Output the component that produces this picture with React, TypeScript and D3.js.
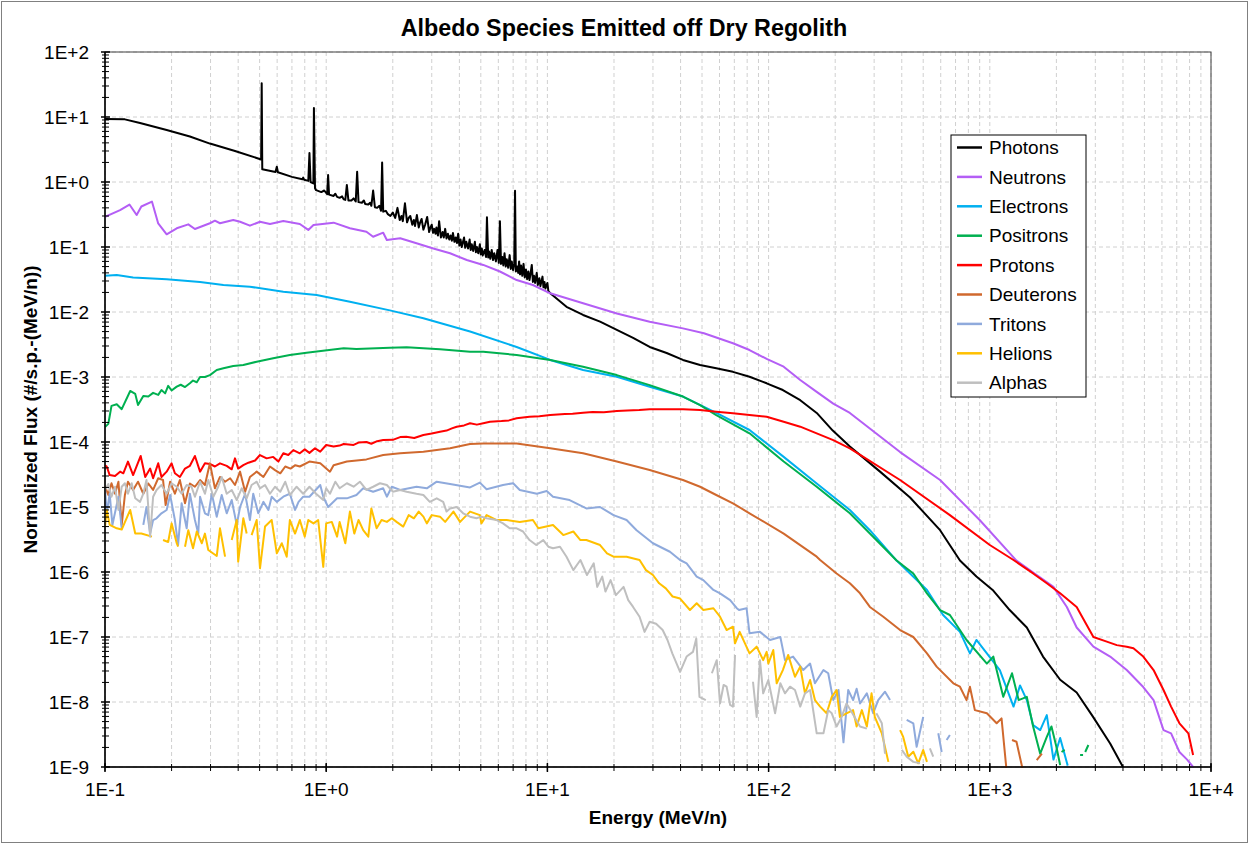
import React from "react";
import * as d3 from "d3";

type Pt = [number, number | null];

const photons: Pt[] = [
  [0.1, 9.3], [0.123, 9.2], [0.144, 8.1], [0.19, 6.3], [0.242, 5.0], [0.298, 3.9], [0.387, 3.0], [0.5, 2.26],
  [0.508, 2.22], [0.511, 33], [0.514, 1.57], [0.59, 1.43], [0.598, 1.72], [0.605, 1.41], [0.7, 1.2], [0.78, 1.1],
  [0.787, 1.17], [0.795, 1.08], [0.83, 1.04], [0.84, 2.8], [0.85, 1.0], [0.875, 0.95], [0.88, 13.7], [0.89, 0.8],
  [0.9, 0.75], [0.95, 0.7], [0.98, 0.74], [1.01, 0.65], [1.02, 1.28], [1.03, 0.64], [1.08, 0.61], [1.1, 0.66],
  [1.12, 0.59], [1.15, 0.57], [1.18, 0.6], [1.2, 0.54], [1.22, 0.53], [1.24, 0.9], [1.26, 0.52], [1.3, 0.52],
  [1.33, 0.56], [1.36, 0.5], [1.38, 1.44], [1.4, 0.49], [1.45, 0.48], [1.48, 0.52], [1.5, 0.46], [1.55, 0.45],
  [1.58, 0.48], [1.6, 0.43], [1.63, 0.74], [1.66, 0.41], [1.7, 0.4], [1.74, 0.43], [1.77, 0.36], [1.79, 2.0],
  [1.81, 0.35], [1.86, 0.36], [1.9, 0.32], [1.95, 0.3], [2.0, 0.34], [2.05, 0.28], [2.1, 0.4], [2.15, 0.26],
  [2.19, 0.3], [2.22, 0.25], [2.27, 0.47], [2.32, 0.24], [2.36, 0.28], [2.4, 0.3], [2.45, 0.22], [2.49, 0.26],
  [2.52, 0.21], [2.57, 0.31], [2.62, 0.2], [2.66, 0.24], [2.7, 0.27], [2.75, 0.185], [2.8, 0.22], [2.86, 0.29],
  [2.92, 0.17], [2.96, 0.2], [3.0, 0.22], [3.04, 0.165], [3.08, 0.19], [3.12, 0.16], [3.15, 0.2], [3.2, 0.15],
  [3.24, 0.25], [3.3, 0.14], [3.36, 0.17], [3.4, 0.14], [3.45, 0.19], [3.5, 0.135], [3.55, 0.16], [3.6, 0.13],
  [3.65, 0.15], [3.7, 0.125], [3.74, 0.164], [3.8, 0.12], [3.85, 0.14], [3.9, 0.115], [3.95, 0.16], [4.0, 0.105],
  [4.05, 0.13], [4.1, 0.1], [4.2, 0.14], [4.25, 0.097], [4.3, 0.12], [4.38, 0.095], [4.45, 0.13], [4.5, 0.09],
  [4.55, 0.11], [4.62, 0.087], [4.7, 0.12], [4.75, 0.083], [4.8, 0.1], [4.87, 0.08], [4.95, 0.11], [5.0, 0.077],
  [5.05, 0.095], [5.1, 0.074], [5.2, 0.09], [5.28, 0.07], [5.33, 0.286], [5.4, 0.069], [5.45, 0.085], [5.52, 0.066],
  [5.6, 0.09], [5.68, 0.063], [5.75, 0.08], [5.85, 0.06], [5.95, 0.09], [6.03, 0.057], [6.1, 0.25], [6.17, 0.055],
  [6.25, 0.07], [6.32, 0.052], [6.4, 0.08], [6.48, 0.05], [6.55, 0.065], [6.65, 0.048], [6.75, 0.075], [6.83, 0.046],
  [6.9, 0.06], [7.0, 0.044], [7.08, 0.055], [7.14, 0.735], [7.2, 0.042], [7.3, 0.05], [7.38, 0.04], [7.45, 0.06],
  [7.52, 0.038], [7.6, 0.052], [7.7, 0.036], [7.8, 0.055], [7.9, 0.034], [8.0, 0.045], [8.1, 0.032], [8.2, 0.042],
  [8.3, 0.031], [8.4, 0.04], [8.5, 0.053], [8.6, 0.029], [8.7, 0.036], [8.8, 0.028], [8.95, 0.04], [9.05, 0.026],
  [9.2, 0.033], [9.3, 0.025], [9.5, 0.035], [9.6, 0.024], [9.7, 0.029], [9.8, 0.023], [10.0, 0.028], [10.1, 0.021],
  [10.3, 0.0195], [12.2, 0.012],
  [14.5, 0.009], [17.3, 0.0071], [20.6, 0.0053], [24.4, 0.004], [29, 0.0029], [34.6, 0.00234], [41, 0.00183],
  [49, 0.00153], [58, 0.00136], [69, 0.0012], [82, 0.00101], [98, 0.0008], [116, 0.00063], [139, 0.00044],
  [165, 0.00028], [195, 0.00015], [233, 8.5e-5], [319, 3.5e-5], [436, 1.4e-5], [596, 4.4e-6], [733, 1.5e-6],
  [870, 8.5e-7], [1030, 5.3e-7], [1230, 2.6e-7], [1470, 1.4e-7], [1740, 5e-8], [2080, 2.2e-8], [2470, 1.4e-8],
  [2930, 5.9e-9], [3500, 2.3e-9], [4000, 1e-9],
];

const neutrons: Pt[] = [
  [0.1, 0.29], [0.117, 0.37], [0.129, 0.45], [0.139, 0.31], [0.146, 0.42], [0.163, 0.5], [0.174, 0.23], [0.19, 0.157],
  [0.211, 0.194], [0.238, 0.223], [0.255, 0.189], [0.298, 0.232], [0.314, 0.254], [0.331, 0.232], [0.38, 0.26],
  [0.408, 0.245], [0.452, 0.213], [0.502, 0.245], [0.557, 0.226], [0.64, 0.251], [0.76, 0.226], [0.83, 0.183],
  [0.876, 0.218], [1.08, 0.237], [1.28, 0.194], [1.52, 0.172], [1.63, 0.144], [1.81, 0.166], [1.88, 0.128],
  [2.16, 0.136], [2.56, 0.114], [3.05, 0.095], [3.63, 0.08], [4.32, 0.063], [5.13, 0.053], [6.1, 0.042],
  [7.26, 0.031], [8.6, 0.026], [10.3, 0.0194], [14.5, 0.0136], [20.6, 0.0095], [29, 0.0071], [41, 0.0056],
  [51, 0.0047], [69, 0.0033], [82, 0.0026], [98, 0.0019], [117, 0.00144], [139, 0.0009], [165, 0.00059],
  [196, 0.00039], [233, 0.00028], [393, 7e-5], [596, 2.6e-5], [900, 6.3e-6], [1320, 1.5e-6], [1630, 9e-7],
  [1940, 5.9e-7], [2230, 2.9e-7], [2470, 1.4e-7], [2940, 7.1e-8], [3500, 5e-8], [4160, 3.1e-8], [4940, 1.7e-8],
  [5500, 1.07e-8], [6100, 3.7e-9], [6600, 3.3e-9], [7200, 1.7e-9], [7800, 1.3e-9], [8300, 1e-9],
];

const electrons: Pt[] = [
  [0.1, 0.036], [0.113, 0.037], [0.134, 0.034], [0.19, 0.032], [0.269, 0.029], [0.343, 0.026], [0.452, 0.0245],
  [0.64, 0.0205], [0.905, 0.0183], [1.28, 0.0144], [1.94, 0.0106], [2.75, 0.008], [4.47, 0.005], [7.26, 0.0029],
  [10.3, 0.00183], [14.5, 0.00128], [20.6, 0.00101], [29, 0.00071], [41, 0.0005], [58, 0.00028], [82, 0.000153],
  [117, 5.9e-5], [165, 2.3e-5], [233, 9e-6], [287, 4.4e-6], [379, 1.5e-6], [436, 9.5e-7], [520, 5.3e-7],
  [615, 2.18e-7], [733, 1.2e-7], [813, 5.6e-8], [870, 9e-8], [970, 5.6e-8], [1110, 3.1e-8], [1280, 8.5e-9],
  [1370, 1.8e-8], [1470, 1.07e-8], [1570, 4.4e-9], [1690, 3.7e-9], [1810, 6.3e-9], [1940, 1.3e-9], [2080, 2.8e-9],
  [2250, 1.05e-9],
];

const positrons: Pt[] = [
  [0.1, 1.7e-4], [0.1035, 1.9e-4], [0.107, 3.6e-4], [0.113, 3.8e-4], [0.119, 3.2e-4], [0.13, 6.1e-4], [0.137, 5.5e-4],
  [0.141, 3.7e-4], [0.149, 5.1e-4], [0.157, 5.0e-4], [0.165, 5.7e-4], [0.174, 5.3e-4], [0.18, 6.3e-4], [0.187, 5.6e-4],
  [0.193, 7.3e-4], [0.2, 6.2e-4], [0.211, 7.1e-4], [0.22, 7.6e-4], [0.23, 7.0e-4], [0.242, 8.0e-4], [0.25, 8.8e-4],
  [0.26, 8.3e-4], [0.269, 1.0e-3], [0.283, 1.0e-3], [0.298, 1.07e-3], [0.32, 1.28e-3], [0.343, 1.36e-3],
  [0.38, 1.48e-3], [0.422, 1.53e-3], [0.485, 1.72e-3], [0.576, 1.94e-3], [0.685, 2.18e-3], [0.815, 2.37e-3],
  [0.967, 2.54e-3], [1.2, 2.76e-3], [1.37, 2.7e-3], [1.94, 2.82e-3], [2.31, 2.86e-3], [2.75, 2.76e-3],
  [3.27, 2.67e-3], [4.47, 2.45e-3], [5.13, 2.45e-3], [7.26, 2.18e-3], [10.3, 1.83e-3], [14.5, 1.44e-3],
  [20.6, 1.07e-3], [29, 7.5e-4], [41, 5.0e-4], [49, 3.7e-4], [58, 2.6e-4], [82, 1.36e-4], [117, 5.0e-5],
  [165, 2.05e-5], [233, 8.0e-6], [379, 1.5e-6], [451, 9.5e-7], [520, 4.7e-7], [596, 2.6e-7], [660, 2.18e-7],
  [785, 9e-8], [970, 3.9e-8], [1037, 5e-8], [1150, 1.2e-8], [1260, 2.77e-8], [1350, 1.07e-8], [1470, 1.2e-8],
  [1570, 4.2e-9], [1690, 1.6e-9], [1810, 2.9e-9], [1900, 4.2e-9], [2000, 2.05e-9], [2080, 1.07e-9], [2090, null],
  [2110, 1.7e-9], [2180, 1.83e-9], [2200, null], [2560, 1.53e-9], [2640, 1.53e-9], [2670, null], [2700, 1.7e-9],
  [2790, 2.18e-9],
];

const protons: Pt[] = [
  [0.1, 4.4e-5], [0.1018, 4.2e-5], [0.105, 3.1e-5], [0.111, 3.0e-5], [0.117, 3.5e-5], [0.121, 3.3e-5], [0.127, 5.0e-5],
  [0.134, 3.1e-5], [0.145, 6.1e-5], [0.152, 2.9e-5], [0.16, 3.9e-5], [0.165, 2.77e-5], [0.174, 4.7e-5], [0.18, 2.9e-5],
  [0.19, 3.5e-5], [0.2, 4.7e-5], [0.207, 3.3e-5], [0.218, 2.9e-5], [0.23, 3.9e-5], [0.242, 4.3e-5], [0.255, 6.1e-5],
  [0.269, 3.5e-5], [0.283, 4.7e-5], [0.298, 4.6e-5], [0.314, 4.2e-5], [0.331, 4.7e-5], [0.355, 4.3e-5],
  [0.374, 3.8e-5], [0.387, 5.6e-5], [0.4, 3.9e-5], [0.422, 4.4e-5], [0.445, 4.8e-5], [0.477, 5.2e-5], [0.502, 6.3e-5],
  [0.538, 5.6e-5], [0.576, 5.9e-5], [0.608, 5.0e-5], [0.64, 6.7e-5], [0.674, 6.3e-5], [0.71, 7.5e-5], [0.76, 6.7e-5],
  [0.8, 7.7e-5], [0.84, 6.8e-5], [0.89, 8.0e-5], [0.94, 7.1e-5], [1.0, 9.0e-5], [1.08, 8.5e-5], [1.15, 8.8e-5],
  [1.2, 9.3e-5], [1.33, 9.0e-5], [1.4, 9.8e-5], [1.52, 1.0e-4], [1.6, 9.4e-5], [1.7, 1.03e-4], [1.81, 1.07e-4],
  [2.0, 1.08e-4], [2.16, 1.19e-4], [2.3, 1.2e-4], [2.5, 1.15e-4], [2.75, 1.28e-4], [3.0, 1.35e-4], [3.27, 1.44e-4],
  [3.5, 1.5e-4], [3.7, 1.62e-4], [3.89, 1.72e-4], [4.2, 1.8e-4], [4.47, 1.94e-4], [4.8, 1.85e-4], [5.13, 1.94e-4],
  [5.5, 2.05e-4], [6.2, 2.1e-4], [6.7, 2.15e-4], [7.26, 2.32e-4], [8.3, 2.45e-4], [9.2, 2.5e-4], [10.3, 2.6e-4],
  [12, 2.7e-4], [13, 2.72e-4], [14.5, 2.82e-4], [16, 2.9e-4], [18, 2.88e-4], [20.6, 3.0e-4], [23, 3.05e-4],
  [26, 3.1e-4], [29, 3.18e-4], [41, 3.18e-4], [49, 3.1e-4], [58, 2.92e-4], [69, 2.76e-4], [82, 2.6e-4],
  [98, 2.45e-4], [117, 2.05e-4], [139, 1.72e-4], [165, 1.36e-4], [196, 1.07e-4], [233, 8.0e-5], [393, 2.6e-5],
  [660, 7.5e-6], [1000, 2.6e-6], [1280, 1.53e-6], [1570, 9.5e-7], [1810, 6.7e-7], [2080, 4.7e-7], [2470, 2.9e-7],
  [2940, 1.0e-7], [3380, 8.5e-8], [3750, 7.5e-8], [4160, 7.1e-8], [4460, 6.7e-8], [4940, 5.0e-8], [5500, 3.1e-8],
  [6100, 1.53e-8], [6600, 8.5e-9], [7200, 4.7e-9], [7900, 3.3e-9], [8300, 1.53e-9],
];

const deuterons: Pt[] = [
  [0.1, 2.05e-5], [0.1035, 1.53e-5], [0.107, 2.32e-5], [0.111, 1.6e-5], [0.115, 2.45e-5], [0.119, 5.3e-6],
  [0.123, 1.53e-5], [0.127, 2.45e-5], [0.134, 1.83e-5], [0.141, 2.45e-5], [0.149, 1.6e-5], [0.157, 2.3e-5],
  [0.165, 1.83e-5], [0.174, 2.77e-5], [0.183, 2.6e-5], [0.188, 1.07e-5], [0.197, 2.45e-5], [0.207, 1.6e-5],
  [0.218, 2.6e-5], [0.23, 1.14e-5], [0.242, 2.3e-5], [0.255, 2.05e-5], [0.269, 2.6e-5], [0.283, 2.18e-5],
  [0.298, 4.7e-5], [0.314, 1.94e-5], [0.331, 2.9e-5], [0.349, 2.45e-5], [0.368, 2.77e-5], [0.387, 2.18e-5],
  [0.408, 3.5e-5], [0.43, 1.72e-5], [0.452, 2.9e-5], [0.485, 3.5e-5], [0.52, 2.9e-5], [0.557, 4.2e-5],
  [0.587, 3.7e-5], [0.62, 3.3e-5], [0.653, 4.2e-5], [0.69, 3.9e-5], [0.725, 4.4e-5], [0.76, 4.2e-5], [0.84, 5.0e-5],
  [0.94, 4.7e-5], [1.04, 3.5e-5], [1.08, 4.4e-5], [1.24, 5.0e-5], [1.52, 5.4e-5], [1.81, 6.3e-5], [2.16, 6.7e-5],
  [2.75, 7.1e-5], [3.63, 8.0e-5], [4.47, 9.3e-5], [5.13, 9.5e-5], [7.26, 9.5e-5], [10.3, 8.0e-5], [14.5, 6.7e-5],
  [20.6, 5.0e-5], [29, 3.7e-5], [41, 2.6e-5], [49, 2.05e-5], [58, 1.53e-5], [69, 1.14e-5], [82, 8.0e-6],
  [117, 3.9e-6], [165, 1.72e-6], [171, 1.53e-6], [203, 9.5e-7], [233, 6.7e-7], [259, 4.7e-7], [287, 2.9e-7],
  [330, 2.05e-7], [393, 1.28e-7], [451, 1.0e-7], [520, 5.6e-8], [575, 3.5e-8], [684, 1.94e-8], [733, 1.72e-8],
  [785, 1.07e-8], [813, 1.72e-8], [856, 7.5e-9], [970, 6.7e-9], [1074, 4.7e-9], [1130, 5.6e-9], [1190, 9e-10],
  [1210, null], [1260, 2.6e-9], [1320, 2.45e-9], [1410, 9e-10], [1500, null], [1630, 1.28e-9], [1720, 1.6e-9],
];

const tritons: Pt[] = [
  [0.1, 1.94e-5], [0.1018, 8e-6], [0.105, 1.6e-5], [0.108, 5.3e-6], [0.115, 1.44e-5], [0.119, 4.7e-6], [0.125, null],
  [0.149, 5.3e-6], [0.154, 1.0e-5], [0.16, 3.9e-6], [0.165, 6.3e-6], [0.171, 6.7e-6], [0.18, 8e-6], [0.19, 9e-6],
  [0.197, 1.53e-5], [0.207, 6.3e-6], [0.214, 2.6e-6], [0.222, 1.14e-5], [0.234, 4.7e-6], [0.242, 1.6e-5],
  [0.255, 6.3e-6], [0.264, 3.9e-6], [0.269, 1.44e-5], [0.283, 8e-6], [0.293, 7.5e-6], [0.304, 1.6e-5],
  [0.32, 7.1e-6], [0.337, 1.53e-5], [0.355, 8e-6], [0.374, 1.28e-5], [0.394, 5.3e-6], [0.408, 1.0e-5],
  [0.43, 1.6e-5], [0.452, 6.3e-6], [0.468, 1.6e-5], [0.493, 8e-6], [0.52, 1.2e-5], [0.548, 9e-6], [0.567, 1.44e-5],
  [0.598, 1.2e-5], [0.64, 1.44e-5], [0.685, 1.6e-5], [0.723, 9e-6], [0.75, 1.2e-5], [0.787, 1.44e-5],
  [0.84, 1.44e-5], [0.94, 2.18e-5], [0.97, 1.44e-5], [1.02, 1.0e-5], [1.12, 1.36e-5], [1.24, 1.36e-5],
  [1.37, 1.53e-5], [1.47, 1.94e-5], [1.63, 1.72e-5], [1.81, 1.94e-5], [1.88, 1.44e-5], [1.98, 2.05e-5],
  [2.16, 1.83e-5], [2.56, 2.05e-5], [2.85, 1.94e-5], [3.16, 2.45e-5], [3.63, 2.26e-5], [4.47, 2.0e-5],
  [4.95, 2.37e-5], [5.31, 1.87e-5], [6.3, 2.18e-5], [7.0, 2.32e-5], [7.5, 1.83e-5], [8.96, 1.6e-5], [9.93, 1.76e-5],
  [10.6, 1.44e-5], [12.6, 1.28e-5], [15, 9.5e-6], [17.3, 1.0e-5], [19.9, 7.5e-6], [22.8, 6.3e-6], [25.3, 4.4e-6],
  [30, 2.77e-6], [35.8, 2.05e-6], [39.8, 1.53e-6], [42.6, 1.36e-6], [47.3, 8.5e-7], [50.7, 7.5e-7], [56.3, 5.3e-7],
  [60.3, 4.7e-7], [67, 3.7e-7], [71.8, 2.77e-7], [73.5, 2.6e-7], [79.5, 2.77e-7], [82, 1.14e-7], [91.4, 1.2e-7],
  [101.5, 9e-8], [113, 1.0e-7], [118.6, 4.4e-8], [129, 5.0e-8], [143.5, 3.1e-8], [154, 3.9e-8], [162, 1.94e-8],
  [177, 3.1e-8], [186, 2.77e-8], [196, 1.07e-8], [207, 1.53e-8], [218, 2.4e-9], [229, 1.53e-8], [241, 1.07e-8],
  [250, 1.6e-8], [259, 9.5e-9], [278, 1.36e-8], [297, 6.7e-9], [313, 1.07e-8], [336, 1.44e-8], [354, 1.07e-8],
  [380, null], [421, 5.3e-9], [451, 4.7e-9], [467, 2.05e-9], [500, 5.9e-9], [540, null], [585, 3.3e-9],
  [606, 1.7e-9], [620, null], [638, 2.6e-9], [660, 3.1e-9],
];

const helions: Pt[] = [
  [0.1, 5e-6], [0.1018, 9e-6], [0.105, 5.3e-6], [0.113, 4.7e-6], [0.119, 4.5e-6], [0.13, 9e-6], [0.137, 3.9e-6],
  [0.146, 3.9e-6], [0.163, 3.5e-6], [0.172, null], [0.183, 3.1e-6], [0.193, 2.9e-6], [0.2, 5.6e-6], [0.211, 2.77e-6],
  [0.214, 2.45e-6], [0.222, null], [0.23, 2.45e-6], [0.238, 4.4e-6], [0.25, 2.32e-6], [0.26, 4.2e-6],
  [0.274, 2.77e-6], [0.283, 3.9e-6], [0.293, 2.18e-6], [0.32, 1.76e-6], [0.331, 4.7e-6], [0.349, 1.72e-6],
  [0.36, null], [0.374, 3.1e-6], [0.394, 6.3e-6], [0.4, 1.44e-6], [0.422, 6.7e-6], [0.437, 3.9e-6], [0.448, null],
  [0.46, 3.7e-6], [0.485, 6.3e-6], [0.502, 1.14e-6], [0.529, 5.0e-6], [0.567, 6.3e-6], [0.598, 1.94e-6],
  [0.63, 2.77e-6], [0.663, 1.72e-6], [0.685, 6.3e-6], [0.723, 3.9e-6], [0.76, 6.3e-6], [0.8, 3.5e-6],
  [0.83, 6.3e-6], [0.876, 5.6e-6], [0.92, 6.3e-6], [0.97, 1.2e-6], [1.0, 5.6e-6], [1.06, 5.9e-6], [1.12, 3.5e-6],
  [1.15, 5.9e-6], [1.22, 2.77e-6], [1.28, 8.5e-6], [1.34, 3.9e-6], [1.4, 6.3e-6], [1.47, 4.4e-6], [1.55, 3.5e-6],
  [1.6, 9.5e-6], [1.69, 4.7e-6], [1.78, 6.3e-6], [1.88, 5.9e-6], [1.98, 6.7e-6], [2.08, 5.9e-6], [2.23, 5.0e-6],
  [2.36, 7.5e-6], [2.49, 6.7e-6], [2.62, 8.5e-6], [2.75, 7.1e-6], [2.85, 5.6e-6], [3.0, 7.5e-6], [3.27, 7.1e-6],
  [3.45, 5.9e-6], [3.76, 8.5e-6], [4.03, 5.9e-6], [4.47, 8.5e-6], [4.95, 7.5e-6], [5.03, 5.6e-6], [5.31, 7.5e-6],
  [5.9, 6.3e-6], [6.54, 6.3e-6], [7.5, 5.9e-6], [8.6, 6.3e-6], [9.1, 4.7e-6], [10.6, 5.3e-6], [11.8, 3.7e-6],
  [13.1, 4.2e-6], [14.1, 3.1e-6], [15, 3.1e-6], [17.3, 2.6e-6], [18.6, 1.94e-6], [19.9, 1.72e-6], [22.8, 1.72e-6],
  [26.1, 1.53e-6], [27.9, 1.07e-6], [30, 9e-7], [32, 6.7e-7], [34.3, 5.6e-7], [36.8, 4.2e-7], [39.8, 3.9e-7],
  [44.1, 2.6e-7], [47.3, 3.3e-7], [50.7, 2.6e-7], [56.3, 2.77e-7], [60.3, 2.05e-7], [64.6, 1.28e-7], [69, 1.44e-7],
  [70.5, 8e-8], [74, 1.2e-7], [82, 5.6e-8], [88.3, 7.1e-8], [94.5, 4.4e-8], [98, 5.9e-8], [99.7, 3.9e-8],
  [105, 6.3e-8], [108.8, 1.94e-8], [116, 3.1e-8], [122.6, 5.3e-8], [131.6, 2.45e-8], [139, 3.5e-8], [146, 1.36e-8],
  [154, 2.18e-8], [162, 1.07e-8], [171, 8.5e-9], [183, 6.7e-9], [193, 1.2e-8], [203, 1.53e-8], [210, 5.9e-9],
  [225, 6.7e-9], [241, 7.5e-9], [250, 4.2e-9], [264, 7.5e-9], [278, 4.2e-9], [292, 1.36e-8], [302, 5.9e-9],
  [325, 3.3e-9], [348, 1.2e-9], [370, null], [393, 3.7e-9], [406, 2.9e-9], [428, 1.44e-9], [451, 1.72e-9],
  [475, 1.14e-9], [500, 1.83e-9], [520, 1.2e-9],
];

const alphas: Pt[] = [
  [0.1, 1.83e-5], [0.1035, 2.26e-5], [0.107, 1.44e-5], [0.111, 2.05e-5], [0.115, 9e-6], [0.119, 2.05e-5],
  [0.123, 2.32e-5], [0.127, 1.6e-5], [0.132, 2.32e-5], [0.137, 1.36e-5], [0.144, 1.2e-5], [0.149, 1.6e-5],
  [0.154, 2.6e-5], [0.16, 3.5e-6], [0.165, 1.44e-5], [0.171, 1.83e-5], [0.18, 2.18e-5], [0.19, 1.6e-5], [0.2, 2.32e-5],
  [0.211, 2.05e-5], [0.222, 1.6e-5], [0.234, 2.18e-5], [0.246, 2.05e-5], [0.255, 1.44e-5], [0.269, 2.45e-5],
  [0.283, 1.6e-5], [0.293, 2.6e-5], [0.309, 1.44e-5], [0.325, 2.05e-5], [0.337, 2.9e-5], [0.355, 1.6e-5],
  [0.374, 1.83e-5], [0.394, 1.28e-5], [0.415, 1.94e-5], [0.437, 1.36e-5], [0.46, 2.18e-5], [0.485, 2.45e-5],
  [0.502, 1.94e-5], [0.529, 2.18e-5], [0.557, 1.6e-5], [0.587, 2.05e-5], [0.62, 1.72e-5], [0.653, 2.45e-5],
  [0.685, 1.53e-5], [0.735, 2.05e-5], [0.787, 1.6e-5], [0.84, 2.05e-5], [0.9, 1.6e-5], [0.97, 1.28e-5],
  [1.0, 1.94e-5], [1.04, 1.6e-5], [1.1, 2.45e-5], [1.15, 1.94e-5], [1.24, 2.32e-5], [1.33, 2.05e-5], [1.42, 2.45e-5],
  [1.52, 1.83e-5], [1.63, 2.05e-5], [1.75, 2.32e-5], [1.88, 2.18e-5], [2.0, 1.72e-5], [2.16, 1.83e-5],
  [2.31, 1.72e-5], [2.56, 1.6e-5], [2.75, 1.53e-5], [2.94, 1.2e-5], [3.16, 1.36e-5], [3.38, 1.2e-5], [3.5, 8.5e-6],
  [3.63, 9.5e-6], [3.89, 1.0e-5], [4.16, 8e-6], [4.47, 7.1e-6], [4.78, 6.7e-6], [5.03, 7.1e-6], [5.31, 6.7e-6],
  [5.9, 6.3e-6], [6.3, 5.6e-6], [6.75, 4.7e-6], [7.26, 4.7e-6], [7.76, 4.2e-6], [8.3, 3.1e-6], [8.9, 2.6e-6],
  [9.58, 3.1e-6], [10.1, 2.45e-6], [10.6, 2.32e-6], [11.4, 2.45e-6], [12.2, 1.72e-6], [13.1, 1.07e-6],
  [14.1, 1.53e-6], [15.1, 9e-7], [16.2, 1.36e-6], [16.8, 5.9e-7], [17.7, 8.5e-7], [18.3, 5e-7], [19.3, 7.5e-7],
  [20.4, 4.4e-7], [22.1, 5.9e-7], [23.2, 3.7e-7], [24.4, 2.9e-7], [26.1, 2.05e-7], [27.5, 1.2e-7], [29, 1.72e-7],
  [31, 1.6e-7], [33.2, 1.28e-7], [34.9, 9e-8], [36.7, 5.6e-8], [39.8, 2.9e-8], [42.6, 5e-8], [45.5, 5.9e-8],
  [47.1, 9.5e-8], [48.7, 1.2e-8], [52, 1.07e-8], [54, null], [55.4, 2.77e-8], [58.3, 4.4e-8], [60.3, 9.5e-9],
  [62.6, 1.83e-8], [64.6, 1.72e-8], [67, 9e-9], [69, 8.5e-9], [70.5, 5.3e-8], [78, null], [85, 2.05e-8],
  [88.3, 5.9e-9], [91.4, 4.4e-8], [94.5, 1.36e-8], [99.7, 2.18e-8], [107, 6.7e-9], [113, 1.94e-8], [118.6, 1.36e-8],
  [125, 1.72e-8], [131.6, 1.53e-8], [139, 8.5e-9], [146, 1.36e-8], [154, 1.53e-8], [165, 3.3e-9], [177, 3.3e-9],
  [186, 7.5e-9], [193, 6.7e-9], [203, 4.2e-9], [214, 5.9e-9], [225, 9.5e-9], [237, 7.1e-9], [259, 4.2e-9],
  [278, 3.9e-9], [290, null], [307, 6.7e-9], [325, 4.7e-9], [336, 1.6e-9], [370, null], [400, 1.83e-9],
  [421, 1.44e-9], [451, 1.2e-9], [484, 1.14e-9], [510, null], [536, 1.94e-9], [555, 1.44e-9],
];

const seriesNames = ["Photons", "Neutrons", "Electrons", "Positrons", "Protons", "Deuterons", "Tritons", "Helions", "Alphas"];
const seriesData = [photons, neutrons, electrons, positrons, protons, deuterons, tritons, helions, alphas];
const seriesColors = ["#000000", "#B45EF5", "#00B0F0", "#00B050", "#FF0000", "#D0692E", "#8FAADC", "#FFC000", "#BFBFBF"];

const xTickValues = [0.1, 1, 10, 100, 1000, 10000];
const xTickLabels = ["1E-1", "1E+0", "1E+1", "1E+2", "1E+3", "1E+4"];
const yTickValues = [1e-9, 1e-8, 1e-7, 1e-6, 1e-5, 1e-4, 1e-3, 1e-2, 1e-1, 1, 10, 100];
const yTickLabels = ["1E-9", "1E-8", "1E-7", "1E-6", "1E-5", "1E-4", "1E-3", "1E-2", "1E-1", "1E+0", "1E+1", "1E+2"];

const titleText = "Albedo Species Emitted off Dry Regolith";
const xTitle = "Energy (MeV/n)";
const yTitle = "Normalized Flux (#/s.p.-(MeV/n))";

const W = 1249;
const H = 844;
const L = 105, R = 1211, T = 52, B = 767;
const FONT = "'Liberation Sans', Arial, sans-serif";

export default function App() {
  const x = d3.scaleLog().domain([0.1, 10000]).range([L, R]);
  const y = d3.scaleLog().domain([1e-9, 100]).range([B, T]);

  const minorX: number[] = [];
  for (let d = 0.1; d < 10000; d *= 10) {
    for (let m = 1; m <= 9; m++) minorX.push(+(d * m).toPrecision(3));
  }
  minorX.push(10000);
  const minorY: number[] = [];
  for (let d = 1e-9; d < 100; d *= 10) {
    for (let m = 2; m <= 9; m++) minorY.push(d * m);
  }

  const line = d3
    .line<Pt>()
    .defined((d) => d[1] != null && (d[1] as number) > 0)
    .x((d) => x(d[0]))
    .y((d) => y(d[1] as number));

  const legendX = 951, legendY = 135, legendW = 135, legendH = 262;
  const rowH = 29.4;

  return (
    <svg width={W} height={H} style={{ position: "absolute", left: 0, top: 0, background: "#fff" }} fontFamily={FONT}>
      <rect x={0} y={0} width={W} height={H} fill="#fff" />
      <rect x={1.5} y={1.5} width={W - 3} height={H - 3} fill="none" stroke="#808080" strokeWidth={1} />
      <defs>
        <clipPath id="plotclip">
          <rect x={L} y={T - 1} width={R - L} height={B - T + 2} />
        </clipPath>
      </defs>

      {minorX.map((v, i) => (
        <line key={"gx" + i} x1={x(v)} x2={x(v)} y1={T} y2={B} stroke="#d0d0d0" strokeWidth={1} strokeDasharray="4,3" />
      ))}
      {yTickValues.map((v, i) => (
        <line key={"gy" + i} x1={L} x2={R} y1={y(v)} y2={y(v)} stroke="#d0d0d0" strokeWidth={1} strokeDasharray="4,3" />
      ))}

      <rect x={L} y={T} width={R - L} height={B - T} fill="none" stroke="#404040" strokeWidth={1} />

      <g clipPath="url(#plotclip)">
        {seriesData.map((s, i) => (
          <path
            key={seriesNames[i]}
            d={line(d3.sort(s, (d) => d[0])) || ""}
            fill="none"
            stroke={seriesColors[i]}
            strokeWidth={2}
            strokeLinejoin="round"
          />
        ))}
      </g>

      <line x1={L} x2={L} y1={T} y2={B} stroke="#000" strokeWidth={1.5} />
      <line x1={L} x2={R} y1={B} y2={B} stroke="#000" strokeWidth={1.5} />
      {minorY.map((v, i) => (
        <line key={"my" + i} x1={L - 3} x2={L + 4} y1={y(v)} y2={y(v)} stroke="#000" strokeWidth={1} />
      ))}
      {yTickValues.map((v, i) => (
        <line key={"ty" + i} x1={L - 4} x2={L + 5} y1={y(v)} y2={y(v)} stroke="#000" strokeWidth={1.5} />
      ))}
      {minorX.map((v, i) => (
        <line key={"mx" + i} x1={x(v)} x2={x(v)} y1={B - 3} y2={B + 4} stroke="#000" strokeWidth={1} />
      ))}
      {xTickValues.map((v, i) => (
        <line key={"tx" + i} x1={x(v)} x2={x(v)} y1={B - 4} y2={B + 5} stroke="#000" strokeWidth={1.5} />
      ))}

      {yTickValues.map((v, i) => (
        <text key={"ly" + i} x={89} y={y(v)} dy="0.35em" textAnchor="end" fontSize={19} fill="#000">
          {yTickLabels[i]}
        </text>
      ))}
      {xTickValues.map((v, i) => (
        <text key={"lx" + i} x={x(v)} y={796} textAnchor="middle" fontSize={19} fill="#000">
          {xTickLabels[i]}
        </text>
      ))}

      <text x={624} y={36} textAnchor="middle" fontSize={23.3} fontWeight="bold" fill="#000">
        {titleText}
      </text>
      <text x={(L + R) / 2} y={824} textAnchor="middle" fontSize={19} fontWeight="bold" fill="#000">
        {xTitle}
      </text>
      <text
        transform={`translate(37, ${(T + B) / 2}) rotate(-90)`}
        textAnchor="middle"
        fontSize={19}
        fontWeight="bold"
        fill="#000"
      >
        {yTitle}
      </text>

      <rect x={legendX} y={legendY} width={legendW} height={legendH} fill="#fff" stroke="#000" strokeWidth={1} />
      {seriesNames.map((n, i) => {
        const ry = 147.5 + i * rowH;
        return (
          <g key={"lg" + n}>
            <line x1={957} x2={982} y1={ry} y2={ry} stroke={seriesColors[i]} strokeWidth={2.5} />
            <text x={989} y={ry} dy="0.35em" fontSize={19} fill="#000">
              {n}
            </text>
          </g>
        );
      })}
    </svg>
  );
}
